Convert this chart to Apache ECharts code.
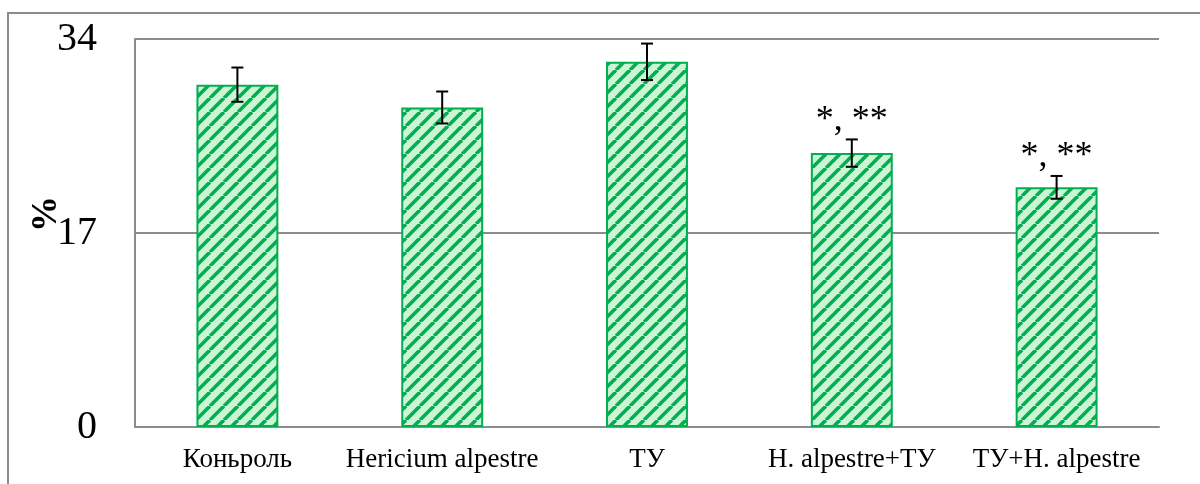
<!DOCTYPE html>
<html>
<head>
<meta charset="utf-8">
<script src="https://cdn.jsdelivr.net/npm/echarts@6/dist/echarts.min.js"></script>
<style>
  html, body { margin: 0; padding: 0; background: #fff; }
  #chart { width: 1200px; height: 484px; }
</style>
</head>
<body>
<div id="chart"></div>
<script>
// Groups and measured percentages
const categories = ['Коньроль', 'Hericium alpestre', 'ТУ', 'H. alpestre+ТУ', 'ТУ+H. alpestre'];
const values = [30, 28, 32, 24, 21];
const errors = [1.5, 1.4, 1.6, 1.2, 1.0];
const marks = ['', '', '', '*, **', '*, **'];
const yTicks = [0, 17, 34];

const SERIF = '"Liberation Serif", "Times New Roman", serif';
const GRAY = '#8c8c8c';
const GREEN = '#00b050';

// Diagonal hatch fill for the bars
function hatchPattern() {
  const n = 14;
  const c = document.createElement('canvas');
  c.width = n; c.height = n;
  const ctx = c.getContext('2d');
  ctx.fillStyle = '#ccf5d6';
  ctx.fillRect(0, 0, n, n);
  ctx.strokeStyle = GREEN;
  ctx.lineWidth = 3.6;
  for (const o of [-n, 0, n]) {
    ctx.beginPath();
    ctx.moveTo(o, n);
    ctx.lineTo(o + n, 0);
    ctx.stroke();
  }
  return c;
}

const errData = values.map((v, i) => [i, v - errors[i], v + errors[i]]);

const chart = echarts.init(document.getElementById('chart'), null, { renderer: 'canvas' });

chart.setOption({
  animation: false,
  backgroundColor: '#ffffff',
  grid: { left: 135, right: 41, top: 39, bottom: 57 },
  xAxis: {
    type: 'category',
    data: categories,
    axisTick: { show: false },
    axisLine: { show: true, lineStyle: { color: GRAY, width: 2 } },
    axisLabel: { color: '#000', fontFamily: SERIF, fontSize: 27, margin: 19, interval: 0 }
  },
  yAxis: {
    type: 'value',
    min: yTicks[0],
    max: yTicks[yTicks.length - 1],
    interval: yTicks[1] - yTicks[0],
    axisLine: { show: true, lineStyle: { color: GRAY, width: 2 } },
    axisTick: { show: false },
    splitLine: { show: true, lineStyle: { color: GRAY, width: 2 } },
    axisLabel: { color: '#000', fontFamily: SERIF, fontSize: 40, margin: 38 }
  },
  graphic: [
    {
      type: 'rect',
      shape: { x: 8, y: 13, width: 1400, height: 600 },
      style: { fill: 'none', stroke: GRAY, lineWidth: 2 },
      silent: true
    },
    {
      type: 'text',
      x: 47, y: 214,
      rotation: Math.PI / 2,
      style: {
        text: '%',
        font: 'bold 36px ' + SERIF,
        fill: '#000',
        align: 'center',
        verticalAlign: 'middle'
      }
    }
  ],
  series: [
    {
      type: 'bar',
      data: values,
      barWidth: '40%',
      itemStyle: {
        color: { image: hatchPattern(), repeat: 'repeat' },
        borderColor: GREEN,
        borderWidth: 2
      }
    },
    {
      type: 'custom',
      z: 5,
      data: errData,
      encode: { x: 0, y: [1, 2] },
      renderItem: function (params, api) {
        const i = api.value(0);
        const lo = api.coord([i, api.value(1)]);
        const hi = api.coord([i, api.value(2)]);
        const cap = 6;
        const line = { stroke: '#000', lineWidth: 2 };
        const children = [
          { type: 'line', shape: { x1: lo[0], y1: lo[1], x2: hi[0], y2: hi[1] }, style: line },
          { type: 'line', shape: { x1: hi[0] - cap, y1: hi[1], x2: hi[0] + cap, y2: hi[1] }, style: line },
          { type: 'line', shape: { x1: lo[0] - cap, y1: lo[1], x2: lo[0] + cap, y2: lo[1] }, style: line }
        ];
        const mark = marks[params.dataIndex];
        if (mark) {
          children.push({
            type: 'text',
            x: hi[0], y: hi[1] - 19,
            style: {
              text: mark,
              font: '36px ' + SERIF,
              fill: '#000',
              align: 'center',
              verticalAlign: 'middle'
            }
          });
        }
        return { type: 'group', children: children };
      }
    }
  ]
});
</script>
</body>
</html>
